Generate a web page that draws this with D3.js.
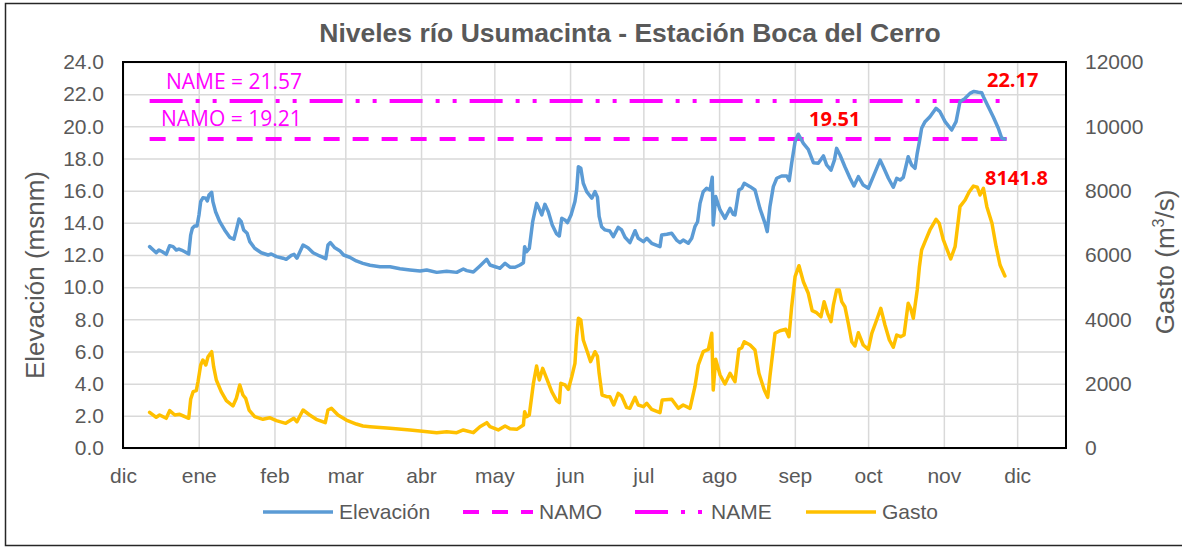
<!DOCTYPE html>
<html>
<head>
<meta charset="utf-8">
<script src="https://cdn.jsdelivr.net/npm/d3@7"></script>
<style>
  body { margin: 0; background: #fff; }
  svg { display: block; font-family: "Liberation Sans", Arial, sans-serif; }
  .tick text { fill: #595959; font-size: 21px; }
  .grid line { stroke: #d9d9d9; stroke-width: 1.5; }
  .grid .domain { display: none; }
</style>
</head>
<body>
<svg id="chart" width="1182" height="548"></svg>
<script>
// Niveles río Usumacinta — Estación Boca del Cerro (dic 2019 – nov 2020)

const W = 1182, H = 548;
const plot = { left: 123, right: 1066, top: 62, bottom: 448 };

// days counted from 1 dic 2019
const elevDia = [10.9, 13.6, 14.7, 16.1, 17.7, 19.1, 20.5, 21.8, 22.9, 23.9, 25.3, 26.9, 27.7, 28.4, 29.3, 30.3,
  31.1, 31.8, 32.7, 33.9, 34.5, 35.2, 36.3, 36.8, 37.9, 39.6, 41.6, 43.7, 45.4, 46.4, 47.5, 48.4, 49.4, 50.8,
  51.9, 53.9, 56.6, 59.4, 60.7, 62.8, 65.5, 66.8, 68.9, 70.0, 71.2, 73.7, 75.7, 77.8, 80.5, 83.0, 83.9, 84.9,
  86.7, 88.7, 90.3, 92.8, 95.5, 98.2, 101.1, 105.2, 109.3, 113.4, 117.5, 121.6, 124.3, 128.4, 132.5, 136.6,
  139.3, 140.7, 143.4, 146.1, 148.9, 150.2, 153.0, 154.3, 156.4, 158.4, 160.5, 162.5, 163.9, 164.4, 165.2,
  166.3, 167.7, 169.3, 170.3, 171.4, 172.7, 174.1, 175.7, 177.5, 178.6, 179.6, 180.9, 181.9, 183.4, 185.0,
  185.7, 186.4, 187.4, 188.4, 189.8, 191.9, 193.2, 194.2, 194.9, 195.9, 197.3, 199.3, 200.7, 202.7, 204.1,
  205.5, 207.5, 209.6, 210.9, 213.0, 214.4, 216.4, 219.8, 220.5, 222.6, 224.6, 226.6, 228.0, 229.3, 231.4,
  232.8, 234.1, 235.2, 236.2, 237.5, 238.9, 240.3, 241.2, 241.6, 242.6, 244.4, 246.4, 248.5, 249.8, 250.5,
  252.1, 253.3, 254.3, 256.7, 258.7, 260.7, 262.8, 263.7, 264.8, 266.2, 267.6, 269.6, 271.7, 272.7, 273.7,
  275.1, 276.4, 278.5, 280.5, 282.6, 284.6, 286.7, 288.0, 289.8, 291.2, 292.1, 293.5, 295.5, 297.6, 299.2,
  301.0, 303.0, 305.1, 307.1, 309.9, 311.2, 313.3, 315.3, 316.7, 318.1, 319.4, 321.4, 322.8, 324.2, 325.1,
  326.0, 326.9, 328.3, 330.3, 332.8, 334.4, 336.5, 339.2, 341.0, 342.6, 344.7, 346.7, 348.3, 350.1, 351.5,
  352.2, 354.2, 356.2, 358.3, 359.7, 361.0];
const elevacion = [12.52, 12.14, 12.31, 12.2, 12.04, 12.58, 12.52, 12.31, 12.37, 12.31, 12.2, 12.06, 13.24, 13.66, 13.8, 13.8,
  14.49, 15.32, 15.56, 15.53, 15.36, 15.73, 15.9, 15.32, 14.69, 14.07, 13.56, 13.1, 12.98, 13.56, 14.24, 14.07, 13.56, 13.35,
  12.83, 12.42, 12.14, 12.0, 12.06, 11.9, 11.8, 11.73, 11.98, 12.04, 11.8, 12.62, 12.45, 12.14, 11.94, 11.77, 12.62, 12.77,
  12.45, 12.27, 12.0, 11.86, 11.63, 11.48, 11.36, 11.27, 11.27, 11.15, 11.07, 11.0, 11.07, 10.92, 10.99, 10.92,
  11.13, 11.03, 10.94, 11.32, 11.73, 11.38, 11.24, 11.17, 11.48, 11.24, 11.24, 11.38, 11.52, 12.52, 12.2,
  12.41, 14.07, 15.21, 14.9, 14.49, 15.15, 14.69, 13.87, 13.31, 13.18, 14.28, 14.18, 14.01, 14.49, 15.32,
  16.04, 17.49, 17.39, 16.46, 15.94, 15.53, 15.94, 15.6, 14.4, 13.76, 13.56, 13.49, 13.14, 13.72, 13.56,
  13.1, 12.77, 13.51, 13.04, 12.83, 13.04, 12.73, 12.52, 13.24, 13.29, 13.35, 12.93, 12.77, 12.93, 12.73,
  13.04, 13.76, 14.07, 15.21, 15.94, 16.15, 16.04, 16.83, 13.87, 15.63, 14.8, 14.28, 14.9, 14.53, 14.49,
  16.04, 16.15, 16.46, 16.25, 16.04, 14.9, 13.97, 13.45, 15.0, 16.25, 16.77, 16.91, 16.91, 16.62, 17.7,
  19.05, 19.51, 18.94, 18.57, 17.74, 17.7, 18.16, 17.6, 17.28, 17.9, 18.63, 18.22, 17.49, 16.77, 16.29,
  16.87, 16.35, 16.15, 16.87, 17.9, 17.49, 16.77, 16.21, 16.77, 16.66, 16.83, 18.11, 17.6, 17.39, 18.32,
  19.05, 19.88, 20.29, 20.6, 21.12, 20.91, 20.29, 19.77, 20.29, 21.53, 21.74, 22.05, 22.17, 22.12, 22.09,
  21.84, 21.22, 20.6, 19.88, 19.26, 19.21];

const gastoDia = [10.9, 13.6, 15.0, 17.7, 19.1, 21.2, 23.2, 25.3, 26.9, 27.7, 28.7, 30.0, 30.7, 31.8, 32.7, 33.9,
  34.8, 36.3, 37.1, 38.2, 40.2, 42.3, 45.0, 46.4, 47.8, 49.1, 50.2, 51.6, 53.9, 57.3, 60.0, 62.8, 66.6, 69.9,
  71.2, 73.7, 76.4, 79.1, 82.8, 83.9, 85.3, 88.0, 91.4, 95.5, 98.2, 101.1, 109.3, 117.5, 121.6, 128.4, 132.5,
  136.6, 139.3, 143.4, 146.1, 148.9, 150.2, 153.6, 156.4, 158.4, 161.2, 163.9, 164.4, 165.2, 166.3, 168.0,
  169.3, 170.4, 171.8, 173.4, 175.5, 177.5, 178.6, 179.2, 180.9, 182.3, 183.7, 185.0, 185.7, 186.4, 187.4,
  188.4, 189.8, 191.4, 193.2, 194.2, 194.9, 196.1, 198.0, 199.3, 200.9, 202.7, 204.1, 206.1, 207.5, 209.6,
  210.9, 213.0, 214.4, 216.4, 219.8, 220.7, 224.6, 227.3, 229.3, 232.1, 234.1, 235.5, 237.5, 239.6, 241.0,
  241.6, 242.6, 244.4, 246.4, 248.5, 250.5, 252.1, 253.3, 254.3, 256.7, 258.7, 260.3, 262.5, 263.9, 264.8,
  266.9, 268.9, 271.3, 272.6, 273.7, 275.1, 276.7, 278.5, 280.5, 282.1, 283.9, 285.7, 287.0, 288.4, 289.8,
  290.8, 292.1, 293.2, 294.2, 295.5, 296.9, 298.3, 299.6, 301.0, 303.0, 305.1, 306.5, 308.5, 310.2, 311.9,
  313.7, 315.3, 316.7, 318.3, 319.7, 321.4, 322.4, 323.5, 325.1, 326.0, 326.9, 328.3, 330.3, 332.8, 334.1,
  335.8, 338.8, 340.6, 342.6, 344.7, 346.4, 348.1, 349.7, 350.8, 352.2, 353.6, 355.7, 357.4, 359.0, 361.0];
const gasto = [1110, 954, 1026, 923, 1160, 1026, 1047, 973, 923, 1513, 1751, 1782, 2061, 2580, 2736, 2580,
  2839, 2994, 2528, 2114, 1751, 1471, 1306, 1545, 1959, 1648, 1545, 1181, 973, 892, 942, 849, 767, 923,
  818, 1181, 1026, 892, 787, 1181, 1234, 1026, 870, 746, 684, 663, 611, 560, 529, 477, 508,
  477, 560, 477, 663, 787, 663, 560, 684, 601, 580, 715, 1130, 973, 1026, 2010,
  2549, 2114, 2477, 2166, 1751, 1471, 1409, 2010, 1959, 1824, 2218, 2632, 3460, 4032, 3979,
  3358, 3047, 2684, 2994, 2850, 2322, 1648, 1595, 1595, 1337, 1700, 1617, 1265, 1234, 1576,
  1337, 1284, 1390, 1203, 1098, 1492, 1514, 1234, 1337, 1234, 1906, 2580, 2994, 3068, 3566,
  1803, 2758, 2270, 1990, 2322, 2061, 3068, 3119, 3305, 3202, 3047, 2322, 1803, 1576, 2218,
  3566, 3647, 3690, 3460, 4393, 5326, 5668, 5170, 4810, 4269, 4207, 4082, 4549, 4188, 3927,
  4450, 4912, 4912, 4549, 4393, 3876, 3305, 3171, 3585, 3202, 3068, 3566, 3979, 4343, 3824,
  3358, 3131, 3513, 3460, 3513, 4499, 4343, 4032, 4912, 5637, 6156, 6414, 6778, 7110, 6986,
  6467, 5876, 6258, 7502, 7710, 7968, 8142, 8105, 7866, 8074, 7502, 6986, 6258, 5689, 5347];

const limiteDia = [10.9, 362.5];
const NAMO = 19.21, NAME = 21.57;

const meses = ["dic", "ene", "feb", "mar", "abr", "may", "jun", "jul", "ago", "sep", "oct", "nov", "dic"];
const elevTicks = d3.range(0, 24.1, 2);
const gastoTicks = d3.range(0, 12001, 2000);

const inicio = new Date(2019, 11, 1);
const fecha = d => new Date(inicio.getTime() + d * 864e5);

const svg = d3.select('#chart');

const x = d3.scaleTime().domain([inicio, fecha(386)]).range([plot.left, plot.right]);
const yL = d3.scaleLinear().domain([0, 24]).range([plot.bottom, plot.top]);
const yR = d3.scaleLinear().domain([0, 12000]).range([plot.bottom, plot.top]);
const mesTicks = d3.timeMonth.range(inicio, fecha(370));

// outer frame
svg.append('rect')
  .attr('x', 5.5).attr('y', 3.5).attr('width', 1190).attr('height', 542)
  .attr('fill', 'none').attr('stroke', '#262626').attr('stroke-width', 1.5);

// gridlines
svg.append('g').attr('class', 'grid')
  .attr('transform', `translate(${plot.left},0)`)
  .call(d3.axisLeft(yL).tickValues(elevTicks).tickSize(-(plot.right - plot.left)).tickFormat(''));
svg.append('g').attr('class', 'grid')
  .attr('transform', `translate(0,${plot.bottom})`)
  .call(d3.axisBottom(x).tickValues(mesTicks).tickSize(-(plot.bottom - plot.top)).tickFormat(''));

// axes (labels only)
const ax = svg.append('g');
ax.append('g').attr('transform', `translate(${plot.left},0)`)
  .call(d3.axisLeft(yL).tickValues(elevTicks).tickSize(0).tickPadding(19).tickFormat(d3.format('.1f')))
  .call(g => g.select('.domain').remove());
ax.append('g').attr('transform', `translate(${plot.right},0)`)
  .call(d3.axisRight(yR).tickValues(gastoTicks).tickSize(0).tickPadding(19).tickFormat(d => d))
  .call(g => g.select('.domain').remove());
ax.append('g').attr('transform', `translate(0,${plot.bottom})`)
  .call(d3.axisBottom(x).tickValues(mesTicks).tickSize(0).tickPadding(20).tickFormat((d, i) => meses[i]))
  .call(g => g.select('.domain').remove());
ax.selectAll('.tick text').attr('font-family', '"Liberation Sans", Arial, sans-serif');

// axis titles
svg.append('text')
  .attr('transform', 'translate(44,275) rotate(-90)')
  .attr('text-anchor', 'middle')
  .attr('font-size', 26).attr('fill', '#595959')
  .text('Elevación (msnm)');
const tR = svg.append('text')
  .attr('transform', 'translate(1174,262) rotate(-90)')
  .attr('text-anchor', 'middle')
  .attr('font-size', 26).attr('fill', '#595959');
tR.append('tspan').text('Gasto (m');
tR.append('tspan').attr('font-size', 16).attr('dy', -10).text('3');
tR.append('tspan').attr('dy', 10).text('/s)');

// title
svg.append('text')
  .attr('x', 630).attr('y', 42)
  .attr('text-anchor', 'middle')
  .attr('font-size', 26.5).attr('font-weight', 'bold').attr('fill', '#595959')
  .text('Niveles río Usumacinta - Estación Boca del Cerro');

// series
const lineL = d3.line().x(d => x(fecha(d[0]))).y(d => yL(d[1]));
const lineR = d3.line().x(d => x(fecha(d[0]))).y(d => yR(d[1]));

const series = svg.append('g');
series.append('path')
  .datum(limiteDia.map(d => [d, NAME]))
  .attr('d', lineL).attr('fill', 'none')
  .attr('stroke', '#ff00ff').attr('stroke-width', 4)
  .attr('stroke-dasharray', '33,13,4,13,4,13');
series.append('path')
  .datum(limiteDia.map(d => [d, NAMO]))
  .attr('d', lineL).attr('fill', 'none')
  .attr('stroke', '#ff00ff').attr('stroke-width', 4)
  .attr('stroke-dasharray', '16,13');
series.append('path')
  .datum(elevDia.map((d, i) => [d, elevacion[i]]))
  .attr('d', lineL).attr('fill', 'none')
  .attr('stroke', '#5b9bd5').attr('stroke-width', 3.5)
  .attr('stroke-linejoin', 'round').attr('stroke-linecap', 'round');
series.append('path')
  .datum(gastoDia.map((d, i) => [d, gasto[i]]))
  .attr('d', lineR).attr('fill', 'none')
  .attr('stroke', '#ffc000').attr('stroke-width', 3.5)
  .attr('stroke-linejoin', 'round').attr('stroke-linecap', 'round');

// plot border
svg.append('rect')
  .attr('x', plot.left).attr('y', plot.top)
  .attr('width', plot.right - plot.left).attr('height', plot.bottom - plot.top)
  .attr('fill', 'none').attr('stroke', '#000').attr('stroke-width', 2);

// annotations
const notes = svg.append('g').attr('font-family', '"Open Sans", sans-serif');
notes.append('text').attr('x', 166).attr('y', 89)
  .attr('font-size', 21).attr('fill', '#ff00ff').text(`NAME = ${NAME}`);
notes.append('text').attr('x', 161).attr('y', 126)
  .attr('font-size', 21).attr('fill', '#ff00ff').text(`NAMO = ${NAMO}`);
notes.append('text').attr('x', 809).attr('y', 126)
  .attr('font-size', 20).attr('font-weight', 'bold').attr('fill', '#ff0000').text('19.51');
notes.append('text').attr('x', 987).attr('y', 87)
  .attr('font-size', 20).attr('font-weight', 'bold').attr('fill', '#ff0000').text('22.17');
notes.append('text').attr('x', 985).attr('y', 185)
  .attr('font-size', 20).attr('font-weight', 'bold').attr('fill', '#ff0000').text('8141.8');

// legend
const legend = [
  { name: 'Elevación', x: 263, color: '#5b9bd5', w: 3.5, dash: null },
  { name: 'NAMO', x: 463, color: '#ff00ff', w: 4, dash: '16,13' },
  { name: 'NAME', x: 635, color: '#ff00ff', w: 4, dash: '33,13,4,13,4,13' },
  { name: 'Gasto', x: 806, color: '#ffc000', w: 3.5, dash: null }
];
const lg = svg.append('g').selectAll('g').data(legend).join('g')
  .attr('transform', d => `translate(${d.x},512)`);
lg.append('line')
  .attr('x1', 0).attr('x2', 70)
  .attr('stroke', d => d.color).attr('stroke-width', d => d.w)
  .attr('stroke-dasharray', d => d.dash);
lg.append('text')
  .attr('x', 76).attr('dy', '0.35em')
  .attr('font-size', 21).attr('fill', '#595959')
  .text(d => d.name);
</script>
</body>
</html>
